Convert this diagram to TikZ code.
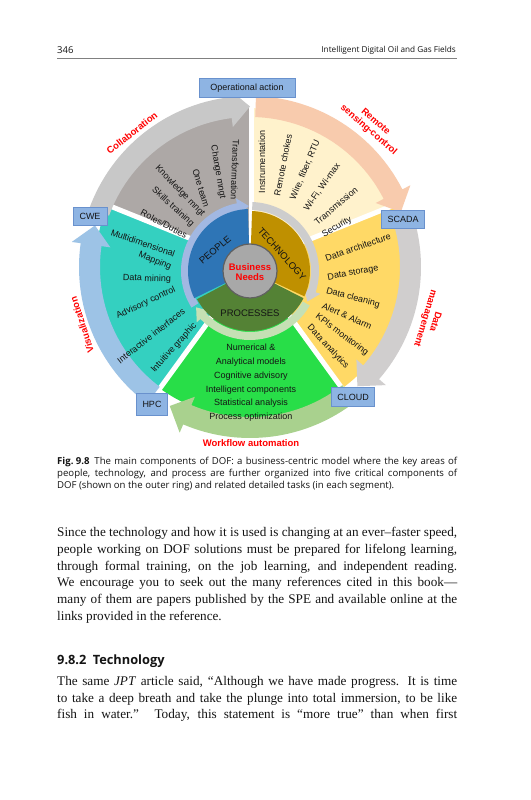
\documentclass[tikz,border=0pt]{standalone}
\usepackage{fontspec}
\setmainfont{Liberation Serif}
\setsansfont{Liberation Sans}
\newfontfamily\capfont{Open Sans}
\definecolor{segGray}{RGB}{173,168,166}
\definecolor{segCream}{RGB}{255,242,204}
\definecolor{segYellow}{RGB}{255,217,102}
\definecolor{segGreen}{RGB}{40,222,72}
\definecolor{segCyan}{RGB}{52,208,192}
\definecolor{arrGray}{RGB}{200,200,200}
\definecolor{arrPeach}{RGB}{248,203,173}
\definecolor{arrGrayB}{RGB}{208,206,206}
\definecolor{arrGreen}{RGB}{169,209,142}
\definecolor{arrBlue}{RGB}{157,195,230}
\definecolor{inBlue}{RGB}{46,117,182}
\definecolor{inGold}{RGB}{191,144,0}
\definecolor{inGreen}{RGB}{84,130,53}
\definecolor{inArrBlue}{RGB}{162,184,226}
\definecolor{inArrGray}{RGB}{205,205,205}
\definecolor{inArrGreen}{RGB}{197,224,180}
\definecolor{boxFill}{RGB}{142,180,227}
\definecolor{boxDraw}{RGB}{105,145,205}
\definecolor{centerGray}{RGB}{168,168,168}
\definecolor{labRed}{RGB}{255,0,0}
\definecolor{txt}{RGB}{20,20,20}
\newcommand{\outarrow}[3]{%
  \fill[#1] (#2:150) arc[start angle=#2, end angle={#3+7}, radius=150]
    -- ({#3+7}:141) -- (#3:160.5) -- ({#3+7}:180) -- ({#3+7}:171)
    arc[start angle={#3+7}, end angle=#2, radius=171] -- cycle;}
\newcommand{\inarrow}[3]{%
  \fill[#1] (#2:61) arc[start angle=#2, end angle={#3+10}, radius=61]
    -- ({#3+10}:57) -- (#3:65) -- ({#3+10}:74) -- ({#3+10}:69)
    arc[start angle={#3+10}, end angle=#2, radius=69] -- cycle;}
\tikzset{
  seg/.style={font=\fontsize{9bp}{10bp}\selectfont\sffamily, text=txt, inner sep=0pt},
  redlab/.style={font=\fontsize{9.5bp}{10.5bp}\selectfont\sffamily\bfseries, text=labRed, align=center, inner sep=0pt},
  inlab/.style={font=\fontsize{9.5bp}{10bp}\selectfont\sffamily, text=txt, inner sep=0pt},
  bluebox/.style={draw=boxDraw, fill=boxFill, line width=0.8bp, font=\fontsize{9bp}{10bp}\selectfont\sffamily, text=txt, inner sep=0pt, minimum height=19bp},
  captext/.style={font=\fontsize{9.6bp}{12bp}\selectfont\capfont, text=txt, inner sep=0pt, anchor=west},
  bodytext/.style={font=\fontsize{13.2bp}{16bp}\selectfont\rmfamily, text=txt, inner sep=0pt, anchor=west},
}
\begin{document}
\begin{tikzpicture}[x=1bp,y=1bp]
\useasboundingbox (0,0) rectangle (531,800);
\fill[white] (0,0) rectangle (531,800);
% ---- outer segments
\begin{scope}[shift={(251,537)}]
  \fill[segGray]   (0,0) -- (158:155) arc[start angle=158, end angle=90, radius=155] -- cycle;
  \fill[segCream]  (0,0) -- (90:155) arc[start angle=90, end angle=22, radius=155] -- cycle;
  \fill[segYellow] (0,0) -- (22:155) arc[start angle=22, end angle=-54, radius=155] -- cycle;
  \fill[segGreen]  (0,0) -- (-54:155) arc[start angle=-54, end angle=-126, radius=155] -- cycle;
  \fill[segCyan]   (0,0) -- (-126:155) arc[start angle=-126, end angle=-202, radius=155] -- cycle;
  \foreach \a in {90,22,-54,-126,158} \draw[white, line width=5bp] (0,0) -- (\a:158);
\end{scope}
% ---- outer arrows
\begin{scope}[shift={(250,533)}]
  \outarrow{arrGray}{160}{90}
  \outarrow{arrPeach}{88}{20}
  \outarrow{arrGrayB}{17}{-48}
  \outarrow{arrGreen}{-52}{-120}
  \outarrow{arrBlue}{-127}{-195}
\end{scope}
% ---- inner ring
\begin{scope}[shift={(250,529)}]
  \inarrow{inArrBlue}{212}{91}
  \inarrow{inArrGray}{88}{-28}
  \inarrow{inArrGreen}{-30}{-146}
  \fill[inBlue]  (0,0) -- (92:62) arc[start angle=92, end angle=206, radius=62] -- cycle;
  \fill[inGold]  (0,0) -- (88:60) arc[start angle=88, end angle=-25, radius=60] -- cycle;
  \fill[inGreen] (0,0) -- (-27:60) arc[start angle=-27, end angle=-152, radius=60] -- cycle;
  \filldraw[fill=centerGray, draw=gray!75!black, line width=1.2bp] (0,0) circle[radius=27];
\end{scope}
% ---- texts in image coordinates
\begin{scope}[shift={(0,800)}, y=-1bp]
  % header
  \node[anchor=west, inner sep=0pt, font=\fontsize{9.5bp}{11bp}\selectfont\capfont, text=txt] (pgno) at (57,50) {346};
  \node[anchor=east, inner sep=0pt, font=\fontsize{8.2bp}{10bp}\selectfont\capfont, text=txt] (runhead) at (456,50) {Intelligent Digital Oil and Gas Fields};
  \coordinate (ruleL) at (57,58);
  \coordinate (ruleR) at (457,58);
  \draw[line width=0.6bp, gray] (ruleL) -- (ruleR);
  % people segment
  \node[seg, rotate=-92] (t1) at (235,170) {Transformation};
  \node[seg, rotate=-80] (t2) at (218,172) {Change mngt};
  \node[seg, rotate=-73] (t3) at (201,188) {One team};
  \node[seg, rotate=-46] (t4) at (180,191) {Knowledge mngt};
  \node[seg, rotate=-42] (t5) at (173,207) {Skills training};
  \node[seg, rotate=-28] (t6) at (164,224) {Roles/Duties};
  % technology segment
  \node[seg, rotate=90] (c1) at (262,162) {Instrumentation};
  \node[seg, rotate=79] (c2) at (283,165) {Remote chokes};
  \node[seg, rotate=67] (c3) at (305,170) {Wire, fiber, RTU};
  \node[seg, rotate=55] (c4) at (322,187) {Wi-Fi, Wi-max};
  \node[seg, rotate=40] (c5) at (336,206) {Transmission};
  \node[seg, rotate=30] (c6) at (337,227) {Security};
  % data segment
  \node[seg, rotate=19] (d1) at (358,247) {Data architecture};
  \node[seg, rotate=11] (d2) at (353,273) {Data storage};
  \node[seg, rotate=-15] (d3) at (353,298) {Data cleaning};
  \node[seg, rotate=-24] (d4) at (347,316) {Alert \& Alarm};
  \node[seg, rotate=-37] (d5) at (342,335) {KPIs monitoring};
  \node[seg, rotate=-47] (d6) at (328,347) {Data analytics};
  % process segment
  \node[seg] (p1) at (251,347) {Numerical \&};
  \node[seg] (p2) at (251,362) {Analytical models};
  \node[seg] (p3) at (251,376) {Cognitive advisory};
  \node[seg] (p4) at (251,390) {Intelligent components};
  \node[seg] (p5) at (251,403) {Statistical analysis};
  \node[seg] (p6) at (251,417) {Process optimization};
  % cyan segment
  \node[seg, rotate=-19] (v1) at (143,243) {Multidimensional};
  \node[seg, rotate=-22] (v2) at (155,261) {Mapping};
  \node[seg, rotate=-2] (v3) at (147,279) {Data mining};
  \node[seg, rotate=25] (v4) at (146,303) {Advisory control};
  \node[seg, rotate=38] (v5) at (151,336) {Interactive interfaces};
  \node[seg, rotate=48] (v6) at (174,348) {Intuitive graphic};
  % inner labels
  \node[inlab, rotate=40] (people) at (215,250) {PEOPLE};
  \node[inlab, rotate=-48] (tech) at (282,254) {TECHNOLOGY};
  \node[inlab] (proc) at (250,313) {PROCESSES};
  \node[redlab] (bneeds) at (250,272) {Business\\Needs};
  % red outer labels
  \node[redlab, rotate=38] (collab) at (132,133) {Collaboration};
  \node[redlab, rotate=-41] (remote) at (372,126) {Remote\\sensing-control};
  \node[redlab, rotate=-107] (datam) at (430,320) {Data\\management};
  \node[redlab, rotate=108] (visu) at (82,325) {Visualization};
  \node[redlab] (wflow) at (251,443) {Workflow automation};
  % boxes
  \node[bluebox, minimum width=96bp] (opact) at (247,88) {Operational action};
  \node[bluebox, minimum width=34bp, minimum height=18bp] (cwe) at (90,216) {CWE};
  \node[bluebox, minimum width=43bp, minimum height=18bp] (scada) at (403,219) {SCADA};
  \node[bluebox, minimum width=31bp, minimum height=22bp] (hpc) at (152,404) {HPC};
  \node[bluebox, minimum width=43bp] (cloud) at (353,397) {CLOUD};
  % caption
  \node[captext] (cap1) at (57,462) {\makebox[400bp][s]{\mbox{\textbf{Fig.\kern0.25em9.8}}\hspace{0.5em}The main components of DOF: a business-centric model where the key areas of}};
  \node[captext] (cap2) at (57,474) {\makebox[400bp][s]{people, technology, and process are further organized into five critical components of}};
  \node[captext] (cap3) at (57,486) {DOF (shown on the outer ring) and related detailed tasks (in each segment).};
  % body
  \node[bodytext] (b1) at (57,533) {\makebox[400bp][s]{Since the technology and how it is used is changing at an ever–faster speed,}};
  \node[bodytext] (b2) at (57,550) {\makebox[400bp][s]{people working on DOF solutions must be prepared for lifelong learning,}};
  \node[bodytext] (b3) at (57,567) {\makebox[400bp][s]{through formal training, on the job learning, and independent reading.}};
  \node[bodytext] (b4) at (57,583) {\makebox[400bp][s]{We encourage you to seek out the many references cited in this book—}};
  \node[bodytext] (b5) at (57,600) {\makebox[400bp][s]{many of them are papers published by the SPE and available online at the}};
  \node[bodytext] (b6) at (57,617) {links provided in the reference.};
  \node[anchor=west, inner sep=0pt, font=\fontsize{12.8bp}{15bp}\selectfont\capfont\bfseries, text=txt] (sec) at (57,661) {9.8.2\hspace{0.5em}Technology};
  \node[bodytext] (b7) at (57,682) {\makebox[400bp][s]{The same \textit{JPT} article said, “Although we have made progress. It is time}};
  \node[bodytext] (b8) at (57,699) {\makebox[400bp][s]{to take a deep breath and take the plunge into total immersion, to be like}};
  \node[bodytext] (b9) at (57,715) {\makebox[400bp][s]{fish in water.” Today, this statement is “more true” than when first}};
\end{scope}
\end{tikzpicture}
\end{document}
